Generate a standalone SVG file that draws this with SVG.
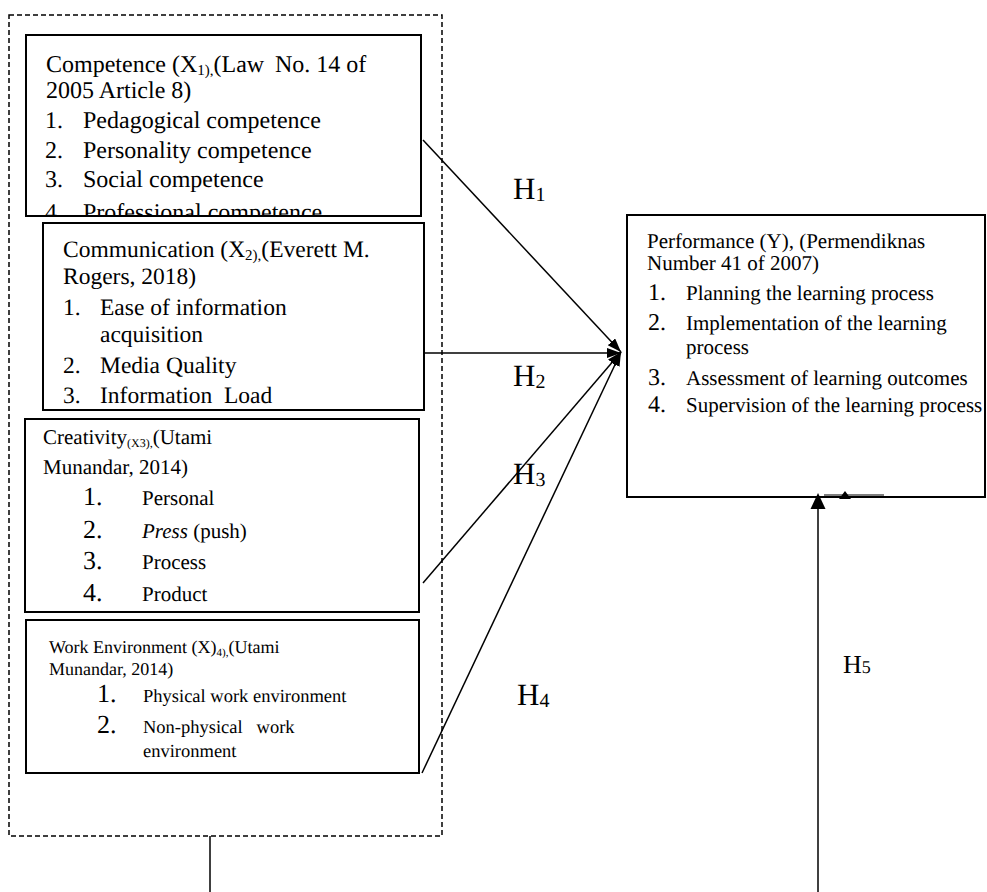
<svg xmlns="http://www.w3.org/2000/svg" width="987" height="892" viewBox="0 0 987 892">
<style>
text{font-family:"Liberation Serif","Times New Roman",serif;fill:#000;white-space:pre;text-rendering:geometricPrecision}
.box{fill:#fff;stroke:#000;stroke-width:2}
.dash{fill:none;stroke:#000;stroke-width:1.5;stroke-dasharray:5,3}
.ln{stroke:#000;stroke-width:1.5;fill:none}
.t24{font-size:24px}.t23{font-size:23.5px}.t21{font-size:21px}.t18{font-size:18.5px}
.n26{font-size:26px}.n24{font-size:24px}
.h{font-size:31px}
</style>
<defs>
<marker id="ah" markerUnits="userSpaceOnUse" markerWidth="16" markerHeight="12" refX="14" refY="5" orient="auto">
<path d="M0,0 L14,5 L0,10 z" fill="#000"/>
</marker>
<clipPath id="c1"><rect x="26" y="35" width="395" height="181"/></clipPath>
</defs>
<rect class="dash" x="9" y="15" width="433" height="821"/>
<g id="competence">
<rect class="box" x="26" y="35" width="395" height="181"/>
<text class="t24" x="46" y="72">Competence (X<tspan font-size="15" dy="3">1),</tspan><tspan dy="-3">(Law</tspan></text>
<text class="t24" x="275" y="72">No. 14 of</text>
<text class="t24" x="46" y="98">2005 Article 8)</text>
<text class="t24" x="45" y="128">1.</text><text class="t24" x="83" y="128">Pedagogical competence</text>
<text class="t24" x="45" y="158">2.</text><text class="t24" x="83" y="158">Personality competence</text>
<text class="t24" x="45" y="187">3.</text><text class="t24" x="83" y="187">Social competence</text>
<g clip-path="url(#c1)"><text class="t24" x="45" y="220">4.</text><text class="t24" x="83" y="220">Professional competence</text></g>
<rect x="26" y="35" width="395" height="181" fill="none" stroke="#000" stroke-width="2"/>
</g>
<g id="communication">
<rect class="box" x="43" y="223" width="381" height="187"/>
<text class="t23" x="63" y="257">Communication (X<tspan font-size="15" dy="3">2),</tspan><tspan dy="-3">(Everett M.</tspan></text>
<text class="t23" x="63" y="284">Rogers, 2018)</text>
<text class="t23" x="63" y="315">1.</text><text class="t23" x="100" y="315">Ease of information</text>
<text class="t23" x="100" y="342">acquisition</text>
<text class="t23" x="63" y="373">2.</text><text class="t23" x="100" y="373">Media Quality</text>
<text class="t23" x="63" y="403">3.</text><text class="t23" x="100" y="403">Information  Load</text>
</g>
<g id="creativity">
<rect class="box" x="25" y="419" width="394" height="193"/>
<text class="t21" x="43" y="444">Creativity<tspan font-size="12" dy="3">(X3),</tspan><tspan dy="-3">(Utami</tspan></text>
<text class="t21" x="43" y="474">Munandar, 2014)</text>
<text class="n26" x="83" y="505">1.</text><text class="t21" x="142" y="505">Personal</text>
<text class="n26" x="83" y="538">2.</text><text class="t21" x="142" y="538"><tspan font-style="italic">Press</tspan> (push)</text>
<text class="n26" x="83" y="569">3.</text><text class="t21" x="142" y="569">Process</text>
<text class="n26" x="83" y="601">4.</text><text class="t21" x="142" y="601">Product</text>
</g>
<g id="workenv">
<rect class="box" x="26" y="620" width="393" height="153"/>
<text x="49" y="653" font-size="18">Work Environment (X)<tspan font-size="11" dy="3">4),</tspan><tspan dy="-3">(Utami</tspan></text>
<text x="49" y="675" font-size="18">Munandar, 2014)</text>
<text class="n26" x="97" y="702">1.</text><text class="t18" x="143" y="702">Physical work environment</text>
<text class="n26" x="97" y="733">2.</text><text class="t18" x="143" y="733">Non-physical   work</text>
<text class="t18" x="143" y="757">environment</text>
</g>
<g id="performance">
<rect class="box" x="627" y="215" width="358" height="282"/>
<text class="t21" x="647" y="248">Performance (Y), (Permendiknas</text>
<text class="t21" x="647" y="270">Number 41 of 2007)</text>
<text class="n24" x="648" y="300">1.</text><text class="t21" x="686" y="300">Planning the learning process</text>
<text class="n24" x="648" y="330">2.</text><text class="t21" x="686" y="330">Implementation of the learning</text>
<text class="t21" x="686" y="354">process</text>
<text class="n24" x="648" y="385">3.</text><text class="t21" x="686" y="385">Assessment of learning outcomes</text>
<text class="n24" x="648" y="412">4.</text><text class="t21" x="686" y="412">Supervision of the learning process</text>
</g>
<g id="connectors">
<line class="ln" x1="423" y1="140" x2="621" y2="352" marker-end="url(#ah)"/>
<line class="ln" x1="424" y1="353" x2="621" y2="353" marker-end="url(#ah)"/>
<line class="ln" x1="423" y1="583" x2="621" y2="352" marker-end="url(#ah)"/>
<line class="ln" x1="422" y1="773" x2="621" y2="352" marker-end="url(#ah)"/>
<line class="ln" x1="210" y1="836" x2="210" y2="892"/>
<line class="ln" x1="818" y1="892" x2="818" y2="508"/>
<path d="M818,493 L825.5,509 L810.5,509 z" fill="#000"/>
<line x1="824" y1="495" x2="884" y2="495" stroke="#555" stroke-width="1.5"/>
<path d="M845,491 L851,499 L839,499 z" fill="#000"/>
</g>
<g id="labels">
<text class="h" x="513" y="199">H<tspan font-size="20" dy="2">1</tspan></text>
<text class="h" x="513" y="386">H<tspan font-size="20" dy="2">2</tspan></text>
<text class="h" x="513" y="484">H<tspan font-size="20" dy="2">3</tspan></text>
<text class="h" x="517" y="705">H<tspan font-size="20" dy="2">4</tspan></text>
<text x="843" y="673" font-size="26">H<tspan font-size="18">5</tspan></text>
</g>
</svg>
